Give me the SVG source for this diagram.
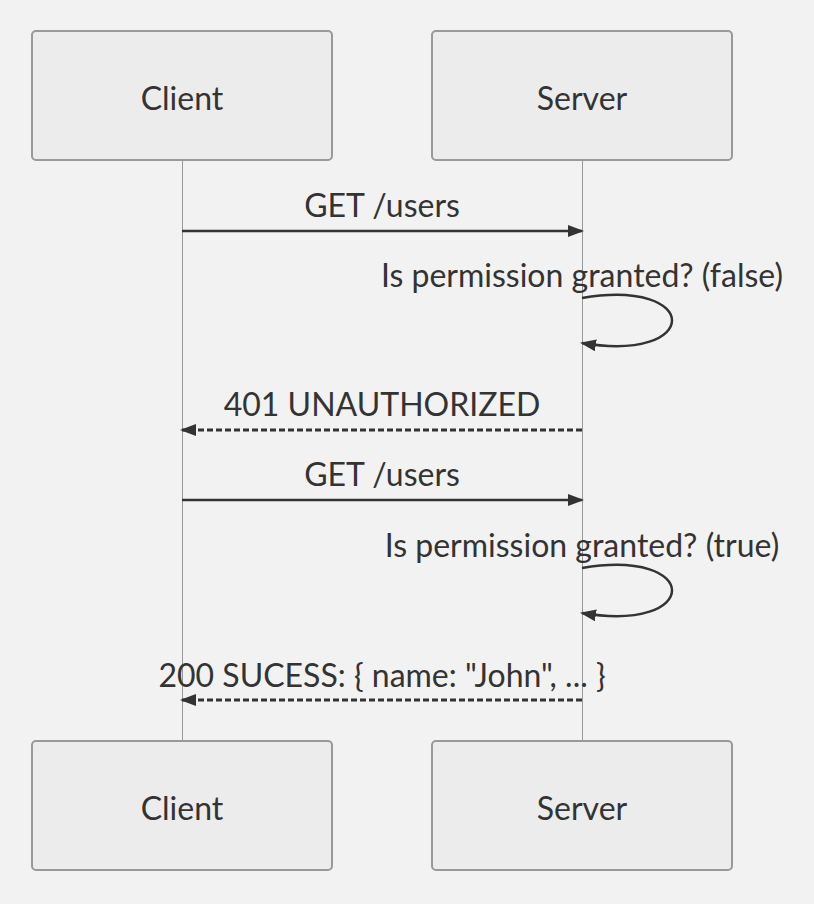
<svg xmlns="http://www.w3.org/2000/svg" width="814" height="904" viewBox="0 0 814 904">
<style>
.bg{fill:#f2f2f2}
.actor rect{fill:#ececec;stroke:#999;stroke-width:2}
.actor text{font-family:Lato,"Liberation Sans",sans-serif;font-size:32px;fill:#333;text-anchor:middle;dominant-baseline:central}
.life{stroke:#999;stroke-width:1}
.msg{stroke:#333;stroke-width:2.5;fill:none}
.dash{stroke-dasharray:6 3;stroke-width:3}
.lbl{font-family:Lato,"Liberation Sans",sans-serif;font-size:32px;fill:#333;text-anchor:middle}
</style>
<defs>
<marker id="arr" viewBox="0 0 16 12" refX="14" refY="6" markerWidth="16" markerHeight="12" orient="auto" markerUnits="userSpaceOnUse">
<path d="M0 0 L16 6 L0 12 z" fill="#333"/>
</marker>
</defs>
<rect class="bg" x="0" y="0" width="814" height="904"/>
<g id="lifelines">
<line class="life" x1="182.5" y1="160" x2="182.5" y2="741"/>
<line class="life" x1="582.5" y1="160" x2="582.5" y2="741"/>
</g>
<g id="client-top" class="actor"><rect x="32" y="31" width="300" height="129" rx="4"/><text x="182" y="97">Client</text></g>
<g id="server-top" class="actor"><rect x="432" y="31" width="300" height="129" rx="4"/><text x="582" y="97">Server</text></g>
<g id="client-bottom" class="actor"><rect x="32" y="741" width="300" height="129" rx="4"/><text x="182" y="807">Client</text></g>
<g id="server-bottom" class="actor"><rect x="432" y="741" width="300" height="129" rx="4"/><text x="582" y="807">Server</text></g>
<g id="connectors">
<line class="msg" x1="182" y1="231" x2="582" y2="231" marker-end="url(#arr)"/>
<path class="msg" d="M582,298 C702,278 702,363 582,343" marker-end="url(#arr)"/>
<line class="msg dash" x1="582" y1="430" x2="182" y2="430" marker-end="url(#arr)"/>
<line class="msg" x1="182" y1="500" x2="582" y2="500" marker-end="url(#arr)"/>
<path class="msg" d="M582,568 C702,548 702,633 582,613" marker-end="url(#arr)"/>
<line class="msg dash" x1="582" y1="700" x2="182" y2="700" marker-end="url(#arr)"/>
</g>
<g id="labels">
<text class="lbl" x="382" y="217">GET /users</text>
<text class="lbl" x="582" y="287">Is permission granted? (false)</text>
<text class="lbl" x="382" y="416">401 UNAUTHORIZED</text>
<text class="lbl" x="382" y="486">GET /users</text>
<text class="lbl" x="582" y="557">Is permission granted? (true)</text>
<text class="lbl" x="382" y="687">200 SUCESS: { name: "John", ... }</text>
</g>
</svg>
